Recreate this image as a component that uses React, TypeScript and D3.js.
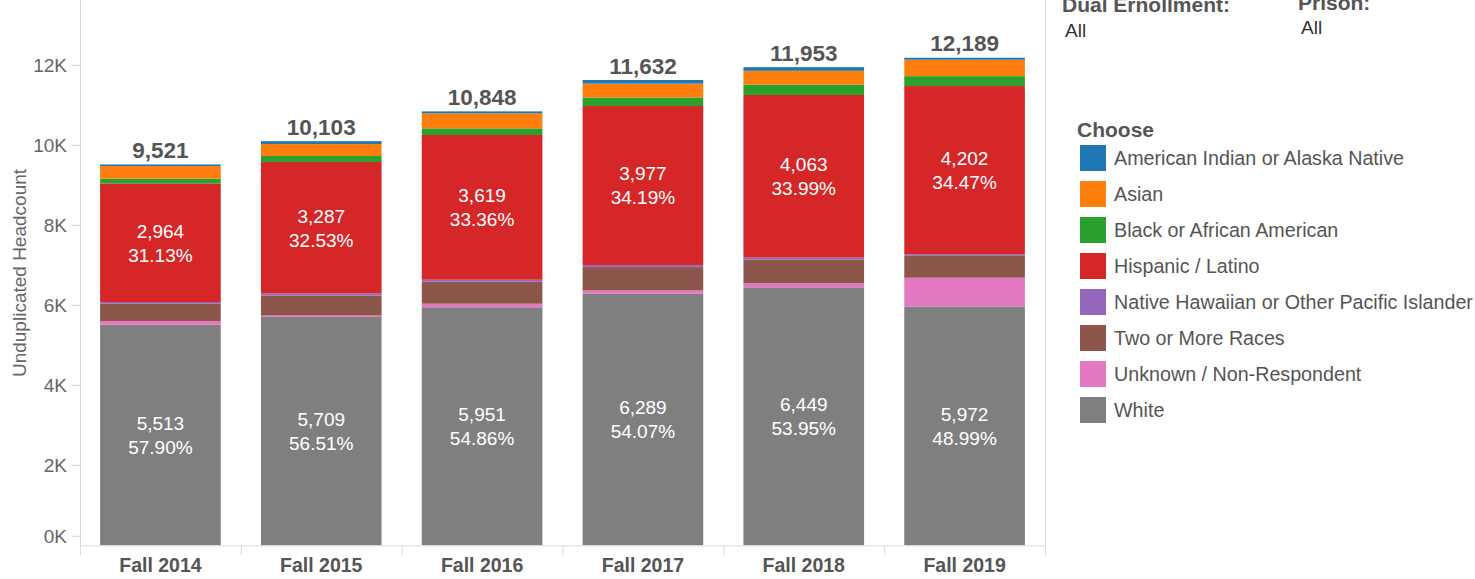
import React from "react";
import * as d3 from "d3";

const categories = ["Fall 2014", "Fall 2015", "Fall 2016", "Fall 2017", "Fall 2018", "Fall 2019"];

// series, bottom to top
const white = [5513, 5709, 5951, 6289, 6449, 5972];
const unknown = [94, 35, 88, 81, 100, 717];
const twoOrMore = [430, 497, 550, 585, 596, 560];
const nativeHawaiian = [45, 55, 50, 50, 50, 30];
const hispanic = [2964, 3287, 3619, 3977, 4063, 4202];
const black = [120, 150, 165, 215, 260, 248];
const asian = [315, 300, 375, 345, 345, 410];
const amIndian = [40, 70, 50, 90, 90, 50];

const yTicks = [0, 2000, 4000, 6000, 8000, 10000, 12000];

const legendNames = [
  "American Indian or Alaska Native",
  "Asian",
  "Black or African American",
  "Hispanic / Latino",
  "Native Hawaiian or Other Pacific Islander",
  "Two or More Races",
  "Unknown / Non-Respondent",
  "White",
];
const legendColors = ["#1f77b4", "#ff7f0e", "#2ca02c", "#d62728", "#9467bd", "#8c564b", "#e377c2", "#7f7f7f"];

const stackOrder = [
  { key: "White", values: white, label: true },
  { key: "Unknown / Non-Respondent", values: unknown, label: false },
  { key: "Two or More Races", values: twoOrMore, label: false },
  { key: "Native Hawaiian or Other Pacific Islander", values: nativeHawaiian, label: false },
  { key: "Hispanic / Latino", values: hispanic, label: true },
  { key: "Black or African American", values: black, label: false },
  { key: "Asian", values: asian, label: false },
  { key: "American Indian or Alaska Native", values: amIndian, label: false },
];

const FONT = "'Liberation Sans', Arial, Helvetica, sans-serif";

export default function App() {
  const left = 80;
  const right = 1045;
  const y0 = 545.3;
  const x = d3.scaleBand<string>().domain(categories).range([left, right]).paddingInner(0.25).paddingOuter(0.125);
  const y = d3.scaleLinear().domain([0, 12000]).range([y0, 65.3]);
  const color = d3.scaleOrdinal<string, string>().domain(legendNames).range(legendColors);

  const rows = categories.map((c, i) => {
    const r: any = { cat: c };
    stackOrder.forEach((s) => (r[s.key] = s.values[i]));
    return r;
  });
  const stack = d3.stack<any>().keys(stackOrder.map((s) => s.key));
  const series = stack(rows);
  const totals = categories.map((_, i) => d3.sum(stackOrder, (s) => s.values[i]));
  const fmt = d3.format(",");
  const bw = x.bandwidth();

  return (
    <svg width={1475} height={579} style={{ position: "absolute", left: 0, top: 0, fontFamily: FONT }}>
      <rect x={0} y={0} width={1475} height={579} fill="#fff" />
      {/* frame lines */}
      <line x1={left + 0.5} x2={left + 0.5} y1={0} y2={555} stroke="#d9d9d9" strokeWidth={1} />
      <line x1={right + 0.5} x2={right + 0.5} y1={0} y2={555} stroke="#d9d9d9" strokeWidth={1} />

      {/* y axis */}
      {yTicks.map((t) => {
        const ty = t === 0 ? y(t) - 9 : y(t);
        return (
          <g key={t}>
            <line x1={72} x2={80} y1={ty} y2={ty} stroke="#d0d0d0" strokeWidth={1} />
            <text x={67} y={ty} dy="0.36em" textAnchor="end" fontSize={19} fill="#666">
              {`${t / 1000}K`}
            </text>
          </g>
        );
      })}
      <text transform={`translate(26,273) rotate(-90)`} textAnchor="middle" fontSize={19} fill="#666">
        Unduplicated Headcount
      </text>

      {/* bars */}
      {series.map((s) => (
        <g key={s.key} fill={color(s.key)}>
          {s.map((d, i) => (
            <rect key={i} x={x(categories[i])} y={y(d[1])} width={bw} height={y(d[0]) - y(d[1])} />
          ))}
        </g>
      ))}

      {/* segment labels */}
      {series.map((s, si) =>
        stackOrder[si].label
          ? s.map((d, i) => {
              const cx = (x(categories[i]) as number) + bw / 2;
              const cy = (y(d[0]) + y(d[1])) / 2;
              const v = d[1] - d[0];
              return (
                <g key={s.key + i} fill="#fff" fontSize={19} textAnchor="middle">
                  <text x={cx} y={cy - 12} dy="0.36em">{fmt(v)}</text>
                  <text x={cx} y={cy + 12} dy="0.36em">{((v / totals[i]) * 100).toFixed(2) + "%"}</text>
                </g>
              );
            })
          : null
      )}

      {/* totals */}
      {totals.map((t, i) => (
        <text
          key={i}
          x={(x(categories[i]) as number) + bw / 2}
          y={y(t) - 6.5}
          textAnchor="middle"
          fontSize={22.5}
          fontWeight="bold"
          fill="#555"
        >
          {fmt(t)}
        </text>
      ))}

      {/* x axis */}
      <line x1={left} x2={right} y1={y0 + 0.5} y2={y0 + 0.5} stroke="#d9d9d9" strokeWidth={1} />
      {d3.range(categories.length + 1).map((k) => {
        const xx = left + k * x.step();
        return <line key={k} x1={xx + 0.5} x2={xx + 0.5} y1={y0} y2={555} stroke="#d9d9d9" strokeWidth={1} />;
      })}
      {categories.map((c) => (
        <text key={c} x={(x(c) as number) + bw / 2} y={572} textAnchor="middle" fontSize={19.5} fontWeight="bold" fill="#555">
          {c}
        </text>
      ))}

      {/* header filters */}
      <text x={1062} y={12} fontSize={21} fontWeight="bold" fill="#555">Dual Ernollment:</text>
      <text x={1065} y={36.5} fontSize={19} fill="#333">All</text>
      <text x={1298} y={9.5} fontSize={21} fontWeight="bold" fill="#555">Prison:</text>
      <text x={1301} y={34} fontSize={19} fill="#333">All</text>

      {/* legend */}
      <text x={1077} y={136.5} fontSize={21} fontWeight="bold" fill="#555">Choose</text>
      {legendNames.map((n, i) => {
        const cy = 158 + i * 36;
        return (
          <g key={n}>
            <rect x={1080} y={cy - 13} width={26} height={26} fill={color(n)} />
            <text x={1114} y={cy} dy="0.36em" fontSize={19.7} fill="#555">{n}</text>
          </g>
        );
      })}
    </svg>
  );
}
